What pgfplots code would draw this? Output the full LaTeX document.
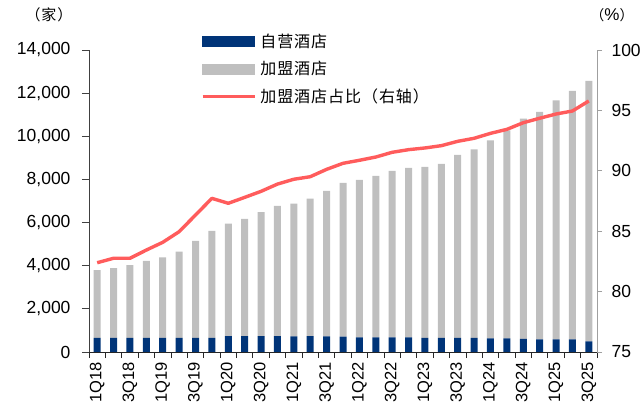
\documentclass[border=0pt]{standalone}
\usepackage{pgfplots}
\pgfplotsset{compat=1.18}
\usepackage{pgfplotstable}
\usepackage{fontspec}
\setmainfont{Liberation Sans}
\newfontfamily\cjk[LetterSpace=6]{Noto Sans CJK SC}
\definecolor{selfblue}{RGB}{0,52,120}
\definecolor{frgray}{RGB}{191,191,191}
\definecolor{linered}{RGB}{255,92,92}

\pgfplotstableread{
x self fran share
0 650 3150 82.39
1 650 3244 82.76
2 650 3383 82.76
3 650 3569 83.44
4 650 3740 84.08
5 650 4000 84.96
6 650 4496 86.34
7 650 4960 87.72
8 740 5208 87.31
9 740 5426 87.80
10 740 5750 88.30
11 740 6029 88.90
12 720 6157 89.30
13 740 6367 89.51
14 720 6744 90.12
15 712 7123 90.62
16 681 7293 90.87
17 681 7479 91.14
18 681 7710 91.53
19 681 7849 91.75
20 650 7927 91.89
21 650 8066 92.08
22 650 8483 92.44
23 650 8747 92.69
24 635 9179 93.10
25 635 9643 93.43
26 604 10212 93.98
27 588 10538 94.35
28 588 11081 94.70
29 588 11512 94.95
30 496 12068 95.78
}\data

\begin{document}
\begin{tikzpicture}
\pgfplotsset{
  common/.style={
    at={(0,0)}, anchor=south west, scale only axis,
    width=508bp, height=302bp,
    xmin=-0.5, xmax=30.5,
    tick align=outside,
    ticklabel style={font=\fontsize{17.5bp}{20bp}\selectfont},
    /pgf/number format/assume math mode=true,
    /pgf/number format/1000 sep={,},
    axis line style={-},
  }
}
\begin{axis}[common,
  ymin=0, ymax=14000,
  axis x line*=bottom, axis y line*=left,
  x axis line style={black!85, line width=0.9bp},
  y axis line style={black!75, line width=0.9bp},
  ybar stacked, bar width=7bp,
  xtick={0,2,...,30},
  xticklabels={1Q18,3Q18,1Q19,3Q19,1Q20,3Q20,1Q21,3Q21,1Q22,3Q22,1Q23,3Q23,1Q24,3Q24,1Q25,3Q25},
  minor xtick={-0.5,0.5,...,30.5},
  major x tick style={draw=none},
  minor x tick style={black!85, line width=0.8bp},
  minor tick length=6bp,
  major tick length=7bp,
  xticklabel style={inner sep=0pt, yshift=-3bp, rotate=90, anchor=east, font=\fontsize{16.5bp}{19bp}\selectfont},
  ytick={0,2000,...,14000},
  scaled y ticks=false,
  ytick style={black!75, line width=0.8bp},
  yticklabel style={xshift=-8bp},
]
\addplot[draw=none, fill=selfblue] table[x=x, y=self] {\data};
\addplot[draw=none, fill=frgray] table[x=x, y=fran] {\data};
\end{axis}
\begin{axis}[common,
  ymin=75, ymax=100,
  axis x line=none, axis y line*=right,
  y axis line style={gray!75, line width=0.9bp},
  ytick={75,80,...,100},
  ytick style={gray!75, line width=0.8bp},
  major tick length=5bp,
  yticklabel style={xshift=6bp},
  legend style={draw=none, fill=none, at={(0.214,1.067)}, anchor=north west,
    font=\cjk\fontsize{16bp}{18bp}\selectfont, row sep=8.5bp, cells={anchor=west},
    /tikz/every odd column/.append style={column sep=2bp}},
]
\addlegendimage{legend image code/.code={\fill[selfblue] (0bp,-5bp) rectangle (52bp,5bp);}}
\addlegendimage{legend image code/.code={\fill[frgray] (0bp,-5bp) rectangle (52bp,5bp);}}
\addplot[linered, line width=3.4bp, line join=round, no marks,
  legend image code/.code={\draw[linered, line width=3.4bp] (0bp,0bp) -- (52bp,0bp);}]
  table[x=x, y=share] {\data};
\legend{自营酒店, 加盟酒店, 加盟酒店占比（右轴）}
\end{axis}
\node[font=\cjk\fontsize{15bp}{17bp}\selectfont] at (-40bp,337bp) {（家）};
\node at (523bp,337bp) {{\cjk\fontsize{14bp}{16bp}\selectfont（}{\fontsize{17bp}{19bp}\selectfont\%}{\cjk\fontsize{14bp}{16bp}\selectfont）}};
\pgfresetboundingbox
\path[use as bounding box] (-89bp,-53bp) rectangle (555bp,352bp);
\end{tikzpicture}
\end{document}
